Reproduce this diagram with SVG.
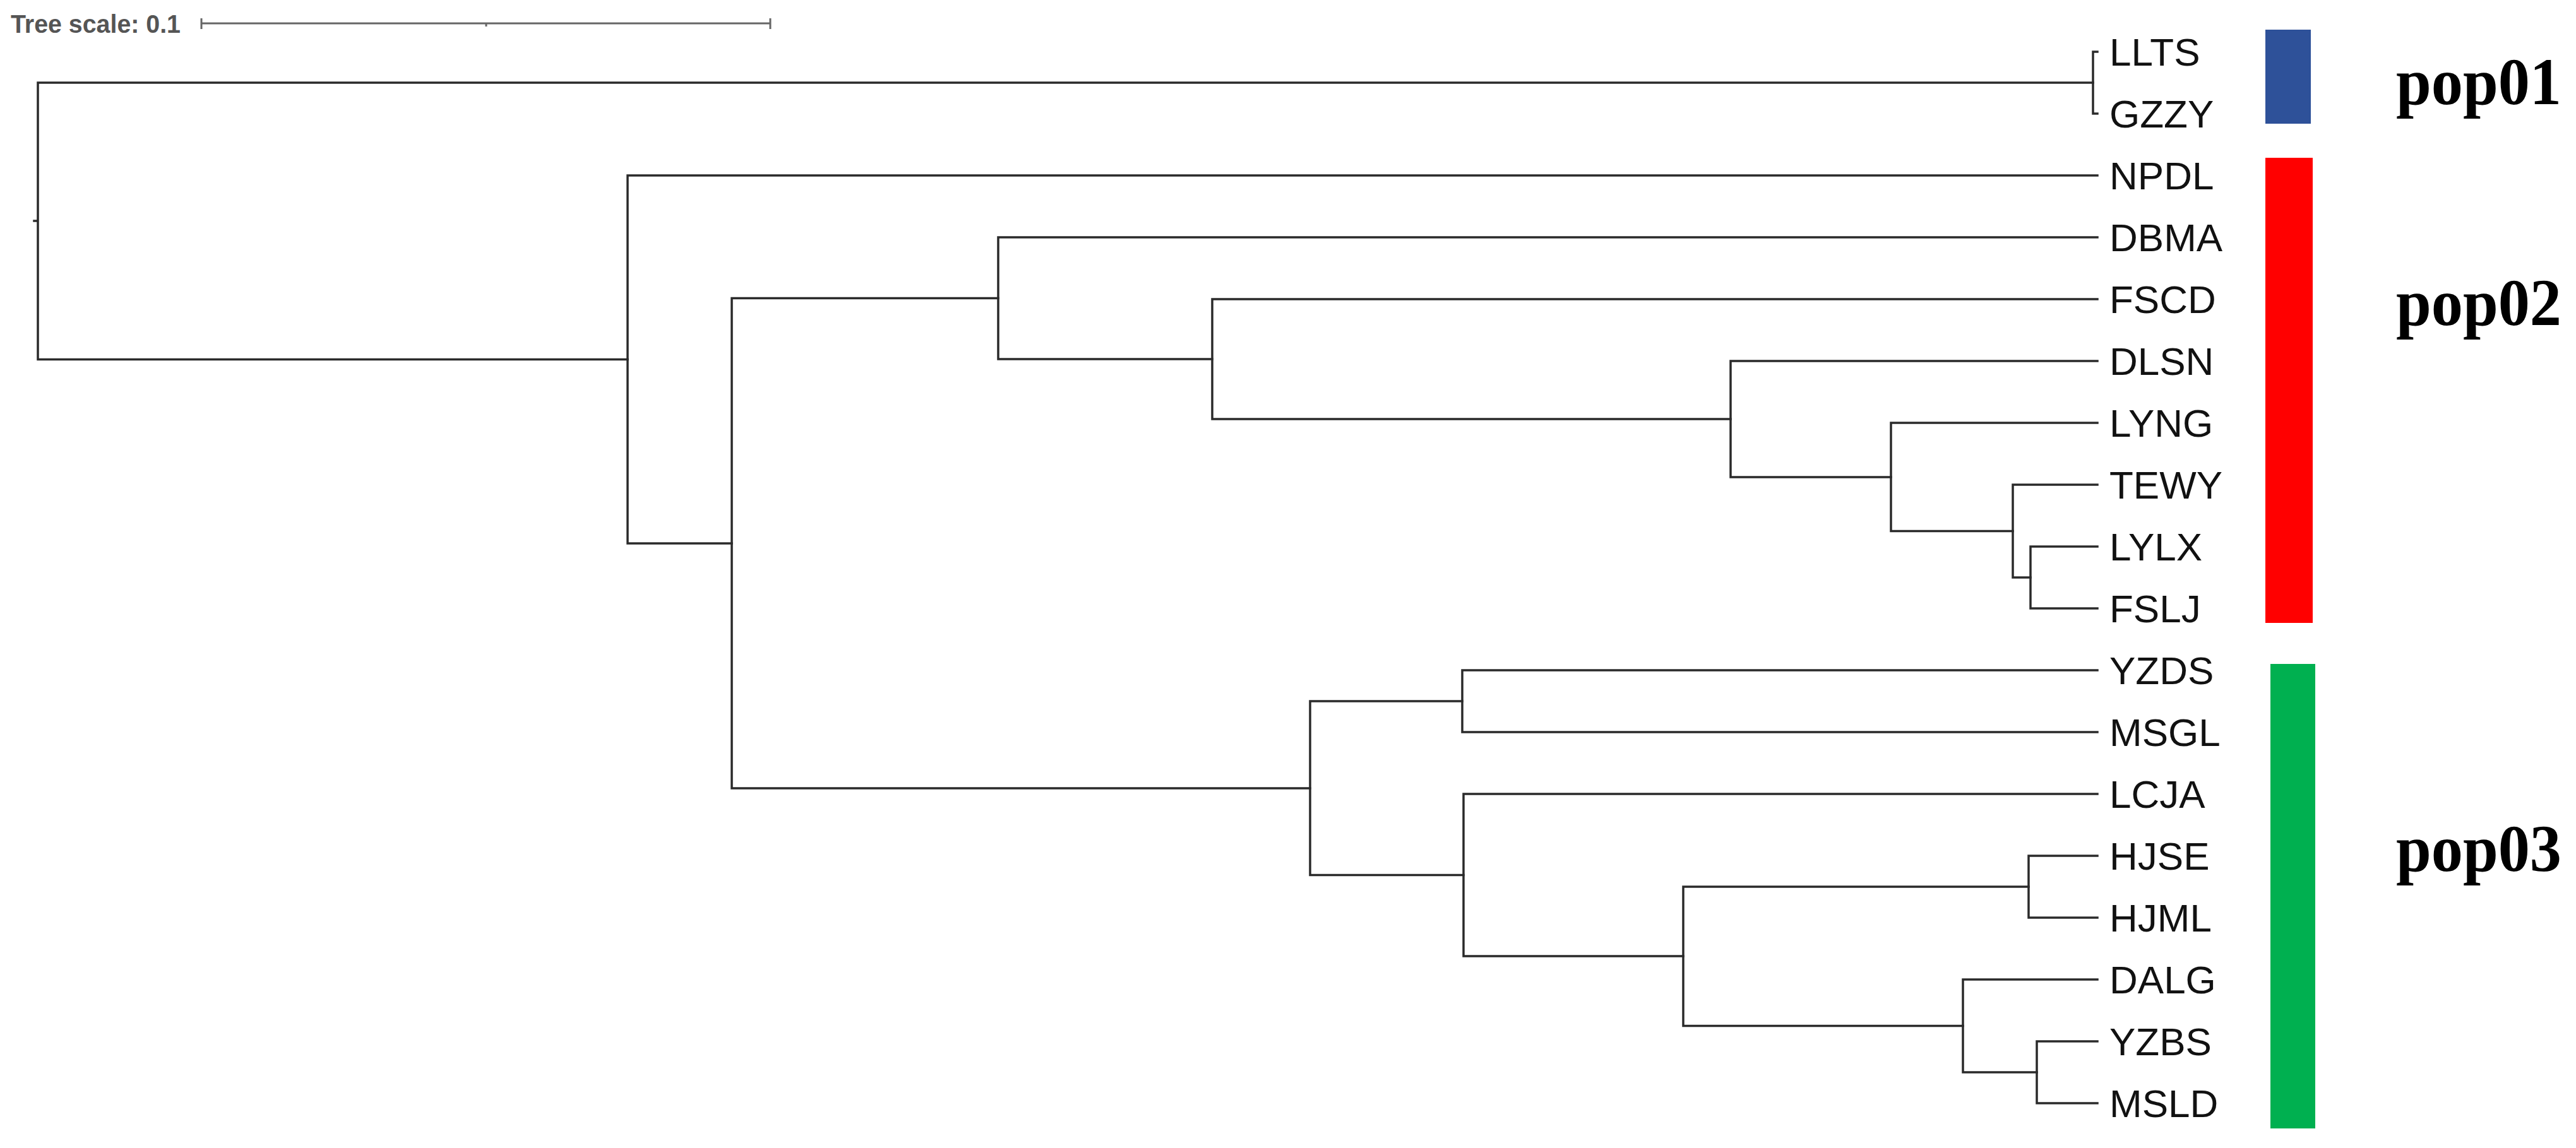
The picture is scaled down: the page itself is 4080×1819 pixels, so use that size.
<svg xmlns="http://www.w3.org/2000/svg" width="4080" height="1819" viewBox="0 0 4080 1819">
<style>
.br{fill:none;stroke:#2a2a2a;stroke-width:3.5;stroke-linecap:square}
.sc{fill:none;stroke:#666;stroke-width:3}
.lf{font-family:"Liberation Sans",Arial,sans-serif;font-size:62px;fill:#111}
.pop{font-family:"Liberation Serif","Times New Roman",serif;font-size:106px;font-weight:bold;fill:#000}
.ts{font-family:"Liberation Sans",Arial,sans-serif;font-size:40px;font-weight:bold;fill:#555}
</style>
<rect width="4080" height="1819" fill="#fff"/>
<g id="tree-scale">
<text class="ts" x="17" y="52" textLength="269" lengthAdjust="spacingAndGlyphs">Tree scale: 0.1</text>
<path class="sc" d="M319 37H1220M319 29V46M1220 29V46M770 37V42"/>
</g>
<g id="connectors">
<path class="br" d="M54 350H60M60 131V569.5M60 131H3315M60 569.5H994"/>
<path class="br" d="M3315 82V180M3315 82H3322M3315 180H3322"/>
<path class="br" d="M994 278V861M994 278H3322M994 861H1159"/>
<path class="br" d="M1159 472.5V1249M1159 472.5H1581M1159 1249H2075"/>
<path class="br" d="M1581 376V569M1581 376H3322M1581 569H1920"/>
<path class="br" d="M1920 474V664M1920 474H3322M1920 664H2741"/>
<path class="br" d="M2741 572V756M2741 572H3322M2741 756H2995"/>
<path class="br" d="M2995 670V841.5M2995 670H3322M2995 841.5H3188"/>
<path class="br" d="M3188 768V915M3188 768H3322M3188 915H3216"/>
<path class="br" d="M3216 866V964M3216 866H3322M3216 964H3322"/>
<path class="br" d="M2075 1111V1386.5M2075 1111H2316M2075 1386.5H2318"/>
<path class="br" d="M2316 1062V1160M2316 1062H3322M2316 1160H3322"/>
<path class="br" d="M2318 1258V1515M2318 1258H3322M2318 1515H2666"/>
<path class="br" d="M2666 1405V1625.5M2666 1405H3213M2666 1625.5H3109"/>
<path class="br" d="M3213 1356V1454M3213 1356H3322M3213 1454H3322"/>
<path class="br" d="M3109 1552V1699M3109 1552H3322M3109 1699H3226"/>
<path class="br" d="M3226 1650V1748M3226 1650H3322M3226 1748H3322"/>
</g>
<g id="LLTS"><text class="lf" x="3341" y="104">LLTS</text></g>
<g id="GZZY"><text class="lf" x="3341" y="202">GZZY</text></g>
<g id="NPDL"><text class="lf" x="3341" y="300">NPDL</text></g>
<g id="DBMA"><text class="lf" x="3341" y="398">DBMA</text></g>
<g id="FSCD"><text class="lf" x="3341" y="496">FSCD</text></g>
<g id="DLSN"><text class="lf" x="3341" y="594">DLSN</text></g>
<g id="LYNG"><text class="lf" x="3341" y="692">LYNG</text></g>
<g id="TEWY"><text class="lf" x="3341" y="790">TEWY</text></g>
<g id="LYLX"><text class="lf" x="3341" y="888">LYLX</text></g>
<g id="FSLJ"><text class="lf" x="3341" y="986">FSLJ</text></g>
<g id="YZDS"><text class="lf" x="3341" y="1084">YZDS</text></g>
<g id="MSGL"><text class="lf" x="3341" y="1182">MSGL</text></g>
<g id="LCJA"><text class="lf" x="3341" y="1280">LCJA</text></g>
<g id="HJSE"><text class="lf" x="3341" y="1378">HJSE</text></g>
<g id="HJML"><text class="lf" x="3341" y="1476">HJML</text></g>
<g id="DALG"><text class="lf" x="3341" y="1574">DALG</text></g>
<g id="YZBS"><text class="lf" x="3341" y="1672">YZBS</text></g>
<g id="MSLD"><text class="lf" x="3341" y="1770">MSLD</text></g>
<g id="pop01">
<rect x="3588" y="47" width="72" height="149" fill="#2E5199"/>
<text class="pop" x="3795" y="165" textLength="262" lengthAdjust="spacingAndGlyphs">pop01</text>
</g>
<g id="pop02">
<rect x="3588" y="250" width="75" height="737" fill="#FF0000"/>
<text class="pop" x="3795" y="515" textLength="262" lengthAdjust="spacingAndGlyphs">pop02</text>
</g>
<g id="pop03">
<rect x="3596" y="1052" width="71" height="736" fill="#00B050"/>
<text class="pop" x="3795" y="1380" textLength="262" lengthAdjust="spacingAndGlyphs">pop03</text>
</g>
</svg>
